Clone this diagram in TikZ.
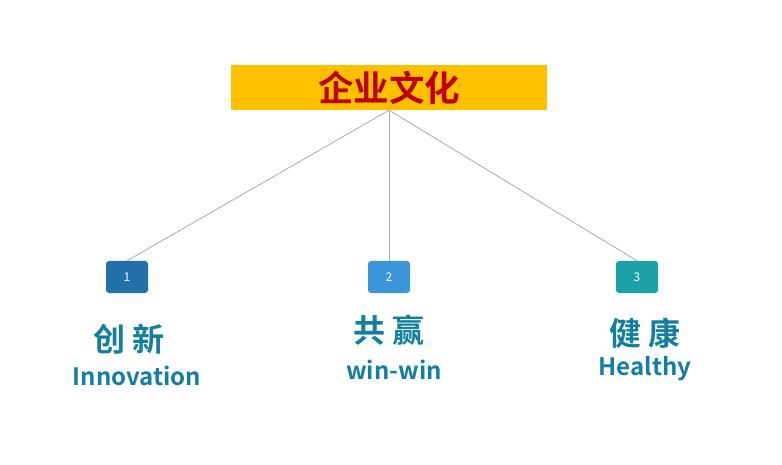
\documentclass[tikz,border=0pt]{standalone}
\usepackage{fontspec}
\newfontfamily\cjk{Noto Sans CJK SC}[BoldFont={Noto Sans CJK SC Bold}]
\definecolor{titlebg}{HTML}{FFC000}
\definecolor{titlefg}{HTML}{C00000}
\definecolor{linkgray}{HTML}{ABABAB}
\definecolor{boxone}{HTML}{2170AA}
\definecolor{boxtwo}{HTML}{3A96D8}
\definecolor{boxthree}{HTML}{1BA1A8}
\definecolor{labelcol}{HTML}{137FA0}
\tikzset{
  numbox/.style={rounded corners=3pt, minimum width=42pt, minimum height=32pt,
    text=white, font=\cjk\fontsize{12}{13}\selectfont, inner sep=0pt},
  cnlabel/.style={text=labelcol, font=\cjk\bfseries\fontsize{32}{34}\selectfont, inner sep=0pt},
  enlabel/.style={text=labelcol, font=\cjk\bfseries\fontsize{24}{26}\selectfont, inner sep=0pt},
  link/.style={draw=linkgray, line width=0.8pt}
}
\begin{document}
\begin{tikzpicture}[x=1pt,y=-1pt]
      \useasboundingbox (0,0) rectangle (782,465);

      % Draw the title bar
      \node[fill=titlebg, minimum width=316pt, minimum height=45pt, inner sep=0pt,
        text=titlefg, font=\cjk\bfseries\fontsize{35.5}{36}\selectfont] (title) at (389,87.5) {企业文化};

      % Draw the numbered boxes
      \node[numbox, fill=boxone] (one) at (127,277) {1};
      \node[numbox, fill=boxtwo] (two) at (389,277) {2};
      \node[numbox, fill=boxthree] (three) at (637,277) {3};

      % Connect the title to the boxes
      \draw[link] (title.south) -- (one.north);
      \draw[link] (title.south) -- (two.north);
      \draw[link] (title.south) -- (three.north);

      % Add the labels under the boxes
      \node[cnlabel] (cnone) at (129,339) {创 新};
      \node[enlabel] (enone) at (137,376) {Innovation};
      \node[cnlabel] (cntwo) at (389,330) {共 赢};
      \node[enlabel] (entwo) at (394,370) {win-win};
      \node[cnlabel] (cnthree) at (645,333) {健 康};
      \node[enlabel] (enthree) at (645,369) {Healthy};
    \end{tikzpicture}
\end{document}
